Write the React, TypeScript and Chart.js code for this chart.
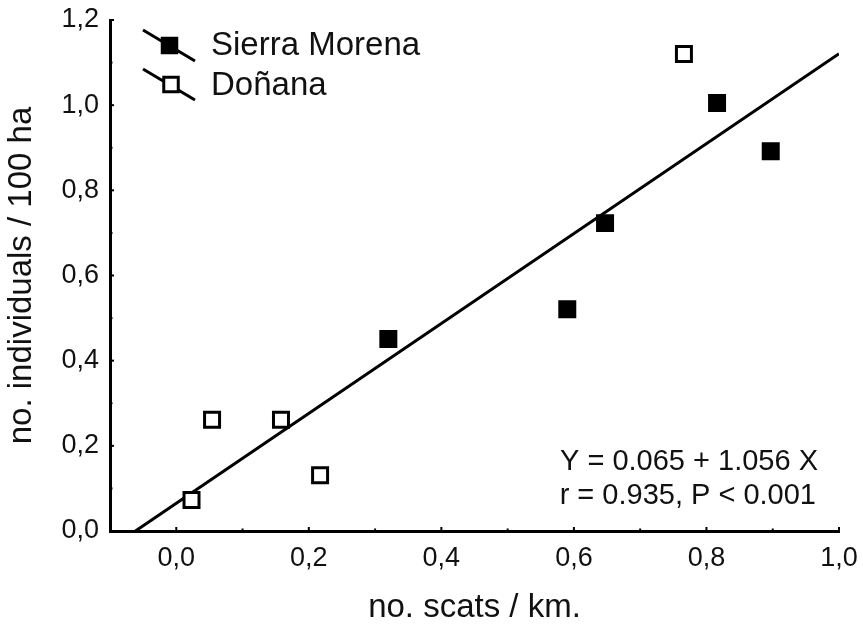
import React, { useEffect, useRef } from "react";
import { Chart, registerables } from "chart.js";

Chart.register(...registerables);

const sierraX = [0.32, 0.59, 0.647, 0.816, 0.897];
const sierraY = [0.451, 0.521, 0.723, 1.005, 0.892];
const donanaX = [0.023, 0.054, 0.158, 0.217, 0.766];
const donanaY = [0.073, 0.261, 0.261, 0.131, 1.12];
const fitX = [-0.0616, 1.0];
const fitY = [0.0, 1.121];
const legendLabels = ["Sierra Morena", "Doñana"];
const equationLines = ["Y = 0.065 + 1.056 X", "r = 0.935, P < 0.001"];
const xTitle = "no. scats / km.";
const yTitle = "no. individuals / 100 ha";

const FONT = "'Liberation Sans', Arial, Helvetica, sans-serif";

const fmt = (v: number) => v.toFixed(1).replace(".", ",");

const decorPlugin = {
  id: "decor",
  afterDraw(chart: any) {
    const ctx = chart.ctx as CanvasRenderingContext2D;
    const xs = chart.scales.x;
    const ys = chart.scales.y;
    const area = chart.chartArea;
    ctx.save();
    // inner tick marks
    ctx.strokeStyle = "#000";
    ctx.lineWidth = 2;
    xs.ticks.forEach((t: any) => {
      const px = xs.getPixelForValue(t.value);
      const major = Math.round(t.value * 10) % 2 === 0;
      ctx.beginPath();
      ctx.moveTo(px, area.bottom);
      ctx.lineTo(px, area.bottom - (major ? 4 : 2.5));
      ctx.stroke();
    });
    ys.ticks.forEach((t: any) => {
      const py = ys.getPixelForValue(t.value);
      const major = Math.round(t.value * 10) % 2 === 0;
      ctx.beginPath();
      ctx.moveTo(area.left, py);
      ctx.lineTo(area.left + (major ? 4 : 2.5), py);
      ctx.stroke();
    });

    // legend
    const legendRows = [
      { y: 45.5, cx: 169.5, base: 55, filled: true },
      { y: 84.5, cx: 171, base: 95, filled: false },
    ];
    legendRows.forEach((r, i) => {
      ctx.strokeStyle = "#000";
      ctx.lineWidth = 3;
      ctx.beginPath();
      ctx.moveTo(143, r.y - 15.5);
      ctx.lineTo(195, r.y + 15.5);
      ctx.stroke();
      const s = 14.5;
      ctx.fillStyle = r.filled ? "#000" : "#fff";
      ctx.fillRect(r.cx - s / 2, r.y - s / 2, s, s);
      ctx.lineWidth = 3;
      ctx.strokeRect(r.cx - s / 2, r.y - s / 2, s, s);
      ctx.fillStyle = "#111";
      ctx.font = `33px ${FONT}`;
      ctx.textAlign = "left";
      ctx.textBaseline = "alphabetic";
      ctx.fillText(legendLabels[i], 211, r.base);
    });

    // equation text
    ctx.fillStyle = "#111";
    ctx.font = `29px ${FONT}`;
    ctx.textAlign = "right";
    ctx.textBaseline = "alphabetic";
    ctx.fillText(equationLines[0], 818, 470);
    ctx.fillText(equationLines[1], 816, 504);
    ctx.restore();
  },
};

export default function App() {
  const ref = useRef<HTMLCanvasElement>(null);
  useEffect(() => {
    if (!ref.current) return;
    const chart = new Chart(ref.current, {
      type: "scatter",
      data: {
        datasets: [
          {
            type: "line",
            label: "fit",
            data: fitX.map((x, i) => ({ x, y: fitY[i] })),
            borderColor: "#000",
            borderWidth: 3,
            pointRadius: 0,
            fill: false,
            order: 3,
          } as any,
          {
            label: legendLabels[0],
            data: sierraX.map((x, i) => ({ x, y: sierraY[i] })),
            pointStyle: "rect",
            pointRadius: 10.6,
            pointBackgroundColor: "#000",
            pointBorderColor: "#000",
            pointBorderWidth: 3,
            order: 1,
          },
          {
            label: legendLabels[1],
            data: donanaX.map((x, i) => ({ x, y: donanaY[i] })),
            pointStyle: "rect",
            pointRadius: 10.6,
            pointBackgroundColor: "#fff",
            pointBorderColor: "#000",
            pointBorderWidth: 3,
            order: 2,
          },
        ],
      },
      options: {
        animation: false,
        responsive: false,
        layout: { padding: { top: 20, right: 24, left: 0, bottom: 0 } },
        plugins: {
          legend: { display: false },
          tooltip: { enabled: false },
        },
        scales: {
          x: {
            type: "linear",
            min: -0.1,
            max: 1.0,
            border: { display: true, color: "#000", width: 3 },
            grid: { display: true, drawOnChartArea: false, drawTicks: false, color: "rgba(0,0,0,0)" },
            ticks: {
              stepSize: 0.1,
              autoSkip: false,
              maxRotation: 0,
              padding: 11,
              color: "#111",
              font: { family: FONT, size: 27 },
              callback: (v: any) => {
                const n = Number(v);
                return Math.round(n * 10) % 2 === 0 ? fmt(n) : "";
              },
            },
            title: {
              display: true,
              text: xTitle,
              color: "#111",
              font: { family: FONT, size: 33, lineHeight: 1.0 },
              padding: { top: 0, bottom: 0 },
            },
            afterFit: (s: any) => {
              s.height = 93;
              s.paddingLeft = 0;
              s.paddingRight = 0;
            },
          },
          y: {
            type: "linear",
            min: 0,
            max: 1.2,
            border: { display: true, color: "#000", width: 3 },
            grid: { display: true, drawOnChartArea: false, drawTicks: false, color: "rgba(0,0,0,0)" },
            ticks: {
              stepSize: 0.1,
              autoSkip: false,
              padding: 11,
              color: "#111",
              font: { family: FONT, size: 27 },
              callback: (v: any) => {
                const n = Number(v);
                return Math.round(n * 10) % 2 === 0 ? fmt(n) : "";
              },
            },
            title: {
              display: true,
              text: yTitle,
              color: "#111",
              font: { family: FONT, size: 33, lineHeight: 1.0 },
              padding: { top: 5, bottom: 0 },
            },
            afterFit: (s: any) => {
              s.width = 110;
              s.paddingTop = 0;
              s.paddingBottom = 0;
            },
          },
        },
      },
      plugins: [decorPlugin],
    });
    return () => chart.destroy();
  }, []);
  return (
    <div style={{ position: "fixed", left: 0, top: 0, width: 863, height: 624, background: "#fff" }}>
      <canvas ref={ref} width={863} height={624} style={{ display: "block" }} />
    </div>
  );
}
